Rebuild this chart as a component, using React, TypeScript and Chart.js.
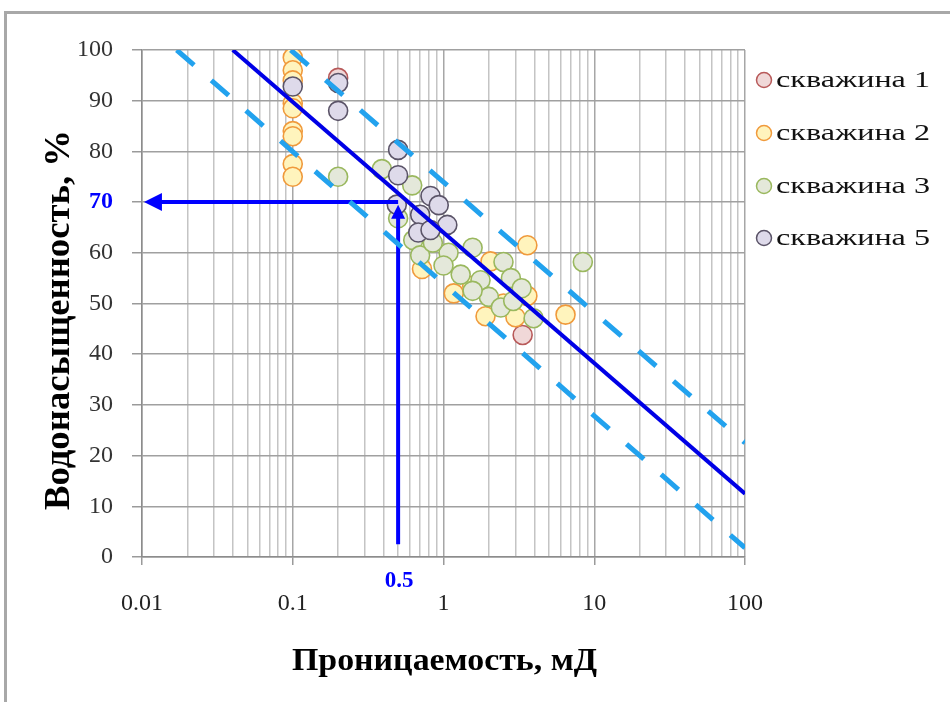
import { useEffect, useRef } from "react";
import { Chart, registerables } from "chart.js";
Chart.register(...registerables);

const seriesNames = ["скважина 1", "скважина 2", "скважина 3", "скважина 5"];
const seriesFill = ["#f0d8d8", "#fff4bd", "#e4e8da", "#dedaea"];
const seriesBorder = ["#b85a5a", "#f09a3c", "#9ab85e", "#5b5468"];

const well1X = [0.2, 3.35];
const well1Y = [94.5, 43.8];

const well2X = [0.1, 0.1, 0.1, 0.1, 0.1, 0.1, 0.1, 0.1, 0.1, 0.72, 1.17, 1.9, 2.05, 3.6, 3.6, 3.0, 6.45, 1.55, 2.5];
const well2Y = [98.5, 96, 94, 89.5, 88.5, 84, 83, 77.5, 75, 56.8, 52, 47.5, 58.3, 61.5, 51.5, 47.3, 47.8, 53.5, 50];

const well3X = [0.2, 0.39, 0.62, 0.5, 0.63, 0.7, 1.08, 1.56, 1.3, 1.76, 2.5, 2.8, 2.0, 2.4, 2.9, 3.96, 8.4, 1.56, 1.0, 0.85, 3.3];
const well3Y = [75, 76.5, 73.3, 66.8, 62.5, 59.5, 60, 61, 55.7, 54.6, 58.2, 55, 51.3, 49.2, 50.5, 47.1, 58.2, 52.5, 57.5, 62, 53];

const well5X = [0.1, 0.2, 0.2, 0.5, 0.5, 0.49, 0.82, 0.93, 0.7, 1.06, 0.68, 0.82];
const well5Y = [92.8, 93.5, 88, 80.3, 75.3, 69.5, 71.2, 69.4, 67.5, 65.5, 64, 64.5];

const trendX = [0.04, 100];
const trendY = [100, 12.5];
const upperX = [0.097, 100];
const upperY = [100, 22.5];
const lowerX = [0.017, 100];
const lowerY = [100, 1.8];

const markedX = 0.5;
const markedY = 70;
const arrowVX = [markedX, markedX];
const arrowVY = [2.5, 67];
const arrowHX = [markedX, 0.0125];
const arrowHY = [markedY, markedY];
const arrowHTipX = 0.0103;
const arrowVTipY = 69.5;

const xDecades = [0.01, 0.1, 1, 10, 100];
const yTickValues = [0, 10, 20, 30, 40, 50, 60, 70, 80, 90, 100];

const xTitle = "Проницаемость, мД";
const yTitle = "Водонасыщенность, %";

const zip = (xs: number[], ys: number[]) => xs.map((x, i) => ({ x, y: ys[i] }));
const isDecade = (v: number) => xDecades.some((d) => Math.abs(v - d) / d < 1e-6);

const SERIF = "'Liberation Serif', 'Times New Roman', serif";

function fitText(c: CanvasRenderingContext2D, text: string, x: number, y: number, width: number) {
  const w = c.measureText(text).width;
  const s = width / w;
  c.save();
  c.translate(x, y);
  c.scale(s, 1);
  c.fillText(text, 0, 0);
  c.restore();
}

export default function App() {
  const ref = useRef<HTMLCanvasElement | null>(null);

  useEffect(() => {
    if (!ref.current) return;
    const wells = [zip(well1X, well1Y), zip(well2X, well2Y), zip(well3X, well3Y), zip(well5X, well5Y)];
    const order = [4, 3, 2, 1];
    const pointSets: any[] = wells.map((d, i) => ({
      label: seriesNames[i],
      data: d,
      backgroundColor: seriesFill[i],
      borderColor: seriesBorder[i],
      borderWidth: 1.6,
      pointRadius: 9.5,
      order: order[i] + 10,
    }));
    const lineSet = (xs: number[], ys: number[], color: string, width: number, dash?: number[]) => ({
      label: "",
      data: zip(xs, ys),
      showLine: true,
      borderColor: color,
      borderWidth: width,
      borderDash: dash || [],
      pointRadius: 0,
      fill: false,
      order: 0,
    });
    const lineSets = [
      lineSet(trendX, trendY, "#0000e6", 4),
      lineSet(upperX, upperY, "#22a2ee", 5, [23, 23]),
      lineSet(lowerX, lowerY, "#22a2ee", 5, [23, 23]),
      lineSet(arrowVX, arrowVY, "#0000ff", 4),
      lineSet(arrowHX, arrowHY, "#0000ff", 4),
    ];

    const extras = {
      id: "extras",
      afterDatasetsDraw(chart: any) {
        const c = chart.ctx;
        const xs = chart.scales.x;
        const ys = chart.scales.y;
        c.save();
        c.fillStyle = "#0000ff";
        const hx = xs.getPixelForValue(arrowHTipX);
        const hy = ys.getPixelForValue(markedY);
        c.beginPath();
        c.moveTo(hx, hy);
        c.lineTo(hx + 18, hy - 9);
        c.lineTo(hx + 18, hy + 9);
        c.closePath();
        c.fill();
        const vx = xs.getPixelForValue(markedX);
        const vy = ys.getPixelForValue(arrowVTipY);
        c.beginPath();
        c.moveTo(vx, vy);
        c.lineTo(vx - 7, vy + 14);
        c.lineTo(vx + 7, vy + 14);
        c.closePath();
        c.fill();
        c.restore();
      },
      afterDraw(chart: any) {
        const c = chart.ctx;
        const xs = chart.scales.x;
        c.save();
        c.fillStyle = "#0000ff";
        c.font = `bold 23px ${SERIF}`;
        c.textAlign = "center";
        c.textBaseline = "middle";
        c.fillText(String(markedX), xs.getPixelForValue(markedX) + 1, 581);
        c.fillStyle = "#000";
        c.font = `bold 32px ${SERIF}`;
        fitText(c, xTitle, (xs.left + xs.right) / 2 + 1, 662, 305);
        c.save();
        c.translate(60, 320);
        c.rotate(-Math.PI / 2);
        c.font = `bold 36px ${SERIF}`;
        fitText(c, yTitle, 0, 0, 380);
        c.restore();
        const ly = [80, 133, 186, 238];
        c.textAlign = "left";
        c.font = `24px ${SERIF}`;
        for (let i = 0; i < seriesNames.length; i++) {
          c.beginPath();
          c.arc(764, ly[i], 7.5, 0, Math.PI * 2);
          c.fillStyle = seriesFill[i];
          c.fill();
          c.lineWidth = 1.5;
          c.strokeStyle = seriesBorder[i];
          c.stroke();
          c.fillStyle = "#111";
          fitText(c, seriesNames[i], 776, ly[i] + 1, 154);
        }
        c.restore();
      },
    };

    const chart = new Chart(ref.current, {
      type: "scatter",
      data: { datasets: [...lineSets, ...pointSets] as any },
      options: {
        animation: false,
        responsive: false,
        events: [],
        layout: { padding: { left: 0, top: 50, right: 205, bottom: 0 } },
        plugins: { legend: { display: false }, tooltip: { enabled: false } },
        scales: {
          x: {
            type: "logarithmic",
            min: 0.01,
            max: 100,
            afterBuildTicks: (scale: any) => {
              const vals: number[] = [];
              for (const d of xDecades.slice(0, -1)) {
                for (let m = 1; m <= 9; m++) vals.push(Number((m * d).toPrecision(3)));
              }
              vals.push(xDecades[xDecades.length - 1]);
              scale.ticks = vals.map((v) => ({ value: v }));
            },
            afterFit: (scale: any) => {
              scale.height = 145;
            },
            ticks: {
              autoSkip: false,
              maxRotation: 0,
              padding: 24,
              color: "#222",
              font: { family: SERIF, size: 24 },
              callback: (v: any) => (isDecade(Number(v)) ? String(Number(v)) : ""),
            },
            grid: {
              color: (ctx: any) => (ctx.tick && isDecade(ctx.tick.value) ? "#a6a6a6" : "#c4c4c4"),
              tickColor: (ctx: any) => (ctx.tick && isDecade(ctx.tick.value) ? "#9a9a9a" : "rgba(0,0,0,0)"),
              lineWidth: 1.5,
              tickLength: 8,
            },
            border: { color: "#8c8c8c", width: 1.5 },
          },
          y: {
            type: "linear",
            min: 0,
            max: 100,
            afterBuildTicks: (scale: any) => {
              scale.ticks = yTickValues.map((v) => ({ value: v }));
            },
            afterFit: (scale: any) => {
              scale.width = 142;
            },
            ticks: {
              padding: 19,
              color: (ctx: any) => (ctx.tick && ctx.tick.value === markedY ? "#0000ff" : "#333"),
              font: (ctx: any) => ({
                family: SERIF,
                size: 24,
                weight: ctx.tick && ctx.tick.value === markedY ? "bold" : "normal",
              }),
            },
            grid: {
              color: "#a0a0a0",
              lineWidth: 1.5,
              tickLength: 10,
              tickColor: "#9a9a9a",
            },
            border: { color: "#8c8c8c", width: 1.5 },
          },
        },
      },
      plugins: [extras],
    });
    return () => chart.destroy();
  }, []);

  return (
    <div style={{ position: "fixed", left: 0, top: 0, width: 950, height: 702, background: "#fff", overflow: "hidden" }}>
      <div
        style={{
          position: "absolute",
          left: 4,
          top: 11,
          width: 1000,
          height: 800,
          borderTop: "3px solid #a8a8a8",
          borderLeft: "3px solid #a8a8a8",
        }}
      />
      <canvas ref={ref} width={950} height={702} style={{ position: "absolute", left: 0, top: 0, display: "block" }} />
    </div>
  );
}
